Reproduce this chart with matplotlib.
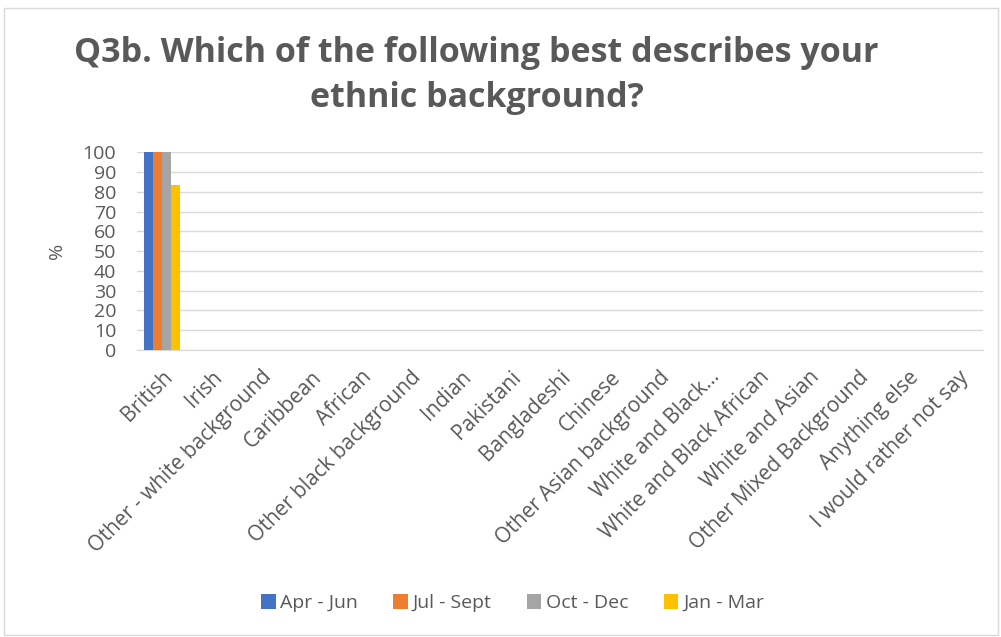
import numpy as np
import matplotlib
matplotlib.use("Agg")
import matplotlib.pyplot as plt
from matplotlib.patches import Rectangle

plt.rcParams['font.family'] = ['Open Sans', 'DejaVu Sans']

categories = ["British", "Irish", "Other - white background", "Caribbean", "African",
              "Other black background", "Indian", "Pakistani", "Bangladeshi", "Chinese",
              "Other Asian background", "White and Black\u2026", "White and Black African",
              "White and Asian", "Other Mixed Background", "Anything else",
              "I would rather not say"]
series = ["Apr - Jun", "Jul - Sept", "Oct - Dec", "Jan - Mar"]
apr_jun = [100, 0, 0, 0, 0, 0, 0, 0, 0, 0, 0, 0, 0, 0, 0, 0, 0]
jul_sept = [100, 0, 0, 0, 0, 0, 0, 0, 0, 0, 0, 0, 0, 0, 0, 0, 0]
oct_dec = [100, 0, 0, 0, 0, 0, 0, 0, 0, 0, 0, 0, 0, 0, 0, 0, 0]
jan_mar = [83.5, 0, 0, 0, 0, 0, 0, 0, 0, 0, 0, 0, 0, 0, 0, 0, 0]
colors = ["#4472c4", "#ed7d31", "#a5a5a5", "#ffc000"]

txt = "#595959"
fig = plt.figure(figsize=(10.01, 6.37), dpi=100)
fig.patches.append(Rectangle((0.004, 0.003), 0.993, 0.985, transform=fig.transFigure,
                             fill=False, edgecolor="#d9d9d9", linewidth=1))
ax = fig.add_axes([0.137, 0.4505, 0.845, 0.3105])

x = np.arange(len(categories))
step, w = 0.18, 0.165
for i, (vals, c, name) in enumerate(zip([apr_jun, jul_sept, oct_dec, jan_mar], colors, series)):
    ax.bar(x + (i - 1.5) * step, vals, width=w, color=c, label=name, zorder=3)

ax.set_xlim(-0.5, len(categories) - 0.5)
ax.set_ylim(0, 100)
ax.set_yticks(range(0, 101, 10))
ax.grid(axis="y", color="#d9d9d9", linewidth=1, zorder=0)
for s in ["top", "right", "left"]:
    ax.spines[s].set_visible(False)
ax.spines["bottom"].set_color("#d9d9d9")
ax.tick_params(axis="both", length=0, colors=txt)
ax.tick_params(axis="y", pad=15, labelsize=14)
ax.tick_params(axis="x", pad=12)
ax.set_xticks(x)
ax.set_xticklabels(categories, rotation=45, ha="right", rotation_mode="anchor", fontsize=15)
ax.set_ylabel("%", color=txt, fontsize=14, labelpad=12)

fig.text(0.476, 0.881, "Q3b. Which of the following best describes your\nethnic background?",
         ha="center", va="center", fontsize=24.5, fontweight="bold", color=txt, linespacing=1.42)

fig.legend(loc="center", bbox_to_anchor=(0.512, 0.053), ncol=4, frameon=False, fontsize=14,
           handlelength=0.75, handleheight=0.75, handletextpad=0.25, columnspacing=1.8,
           labelcolor=txt)

fig.savefig("out.png", dpi=100)
